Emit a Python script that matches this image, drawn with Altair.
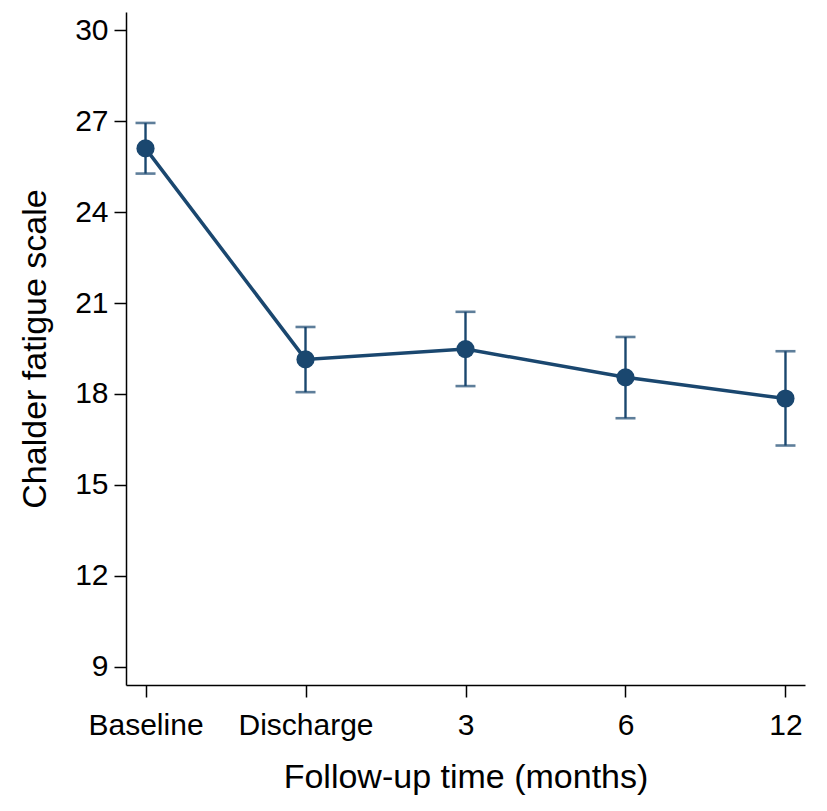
import altair as alt
import pandas as pd

categories = ["Baseline", "Discharge", "3", "6", "12"]
means = [26.10, 19.14, 19.48, 18.55, 17.85]
lower = [25.27, 18.06, 18.26, 17.20, 16.30]
upper = [26.94, 20.21, 20.71, 19.88, 19.41]
y_ticks = [9, 12, 15, 18, 21, 24, 27, 30]

df = pd.DataFrame({"time": categories, "mean": means, "lo": lower, "hi": upper})

color = "#1a476f"
font = "Liberation Sans"

x_enc = alt.X(
    "time:N",
    sort=categories,
    scale=alt.Scale(type="point", padding=0.122),
    axis=alt.Axis(
        title="Follow-up time (months)",
        labelAngle=0,
        labelFontSize=30,
        titleFontSize=34,
        labelFont=font,
        titleFont=font,
        labelColor="#000000",
        titleColor="#000000",
        titleFontWeight="normal",
        tickSize=12,
        tickWidth=1.5,
        tickColor="#000000",
        domainColor="#000000",
        domainWidth=1.5,
        labelPadding=13,
        titlePadding=20,
        grid=False,
    ),
)

y_scale = alt.Scale(domain=[8.4, 30.6], nice=False, zero=False)
y_axis = alt.Axis(
    title="Chalder fatigue scale",
    values=y_ticks,
    labelFontSize=30,
    titleFontSize=34,
    labelFont=font,
    titleFont=font,
    labelColor="#000000",
    titleColor="#000000",
    titleFontWeight="normal",
    tickSize=12,
    tickWidth=1.5,
    tickColor="#000000",
    domainColor="#000000",
    domainWidth=1.5,
    labelPadding=6,
    titlePadding=22,
    grid=False,
)

base = alt.Chart(df)

line = base.mark_line(color=color, strokeWidth=3.5).encode(
    x=x_enc, y=alt.Y("mean:Q", scale=y_scale, axis=y_axis)
)
rules = base.mark_rule(color=color, strokeWidth=2.4).encode(
    x=alt.X("time:N", sort=categories), y=alt.Y("lo:Q"), y2="hi:Q"
)
caps_hi = base.mark_tick(color=color, size=20, thickness=2.6, orient="horizontal").encode(
    x=alt.X("time:N", sort=categories), y=alt.Y("hi:Q")
)
caps_lo = base.mark_tick(color=color, size=20, thickness=2.6, orient="horizontal").encode(
    x=alt.X("time:N", sort=categories), y=alt.Y("lo:Q")
)
points = base.mark_point(filled=True, color=color, size=330, opacity=1).encode(
    x=alt.X("time:N", sort=categories), y=alt.Y("mean:Q")
)

chart = (
    alt.layer(line, rules, caps_hi, caps_lo, points)
    .properties(
        width=679,
        height=673,
        autosize=alt.AutoSizeParams(type="none"),
        padding={"left": 118, "top": 4, "right": 10, "bottom": 122},
        background="#ffffff",
    )
    .configure_view(stroke=None)
)

chart.save("out.html", embed_options={"renderer": "svg", "actions": False})
